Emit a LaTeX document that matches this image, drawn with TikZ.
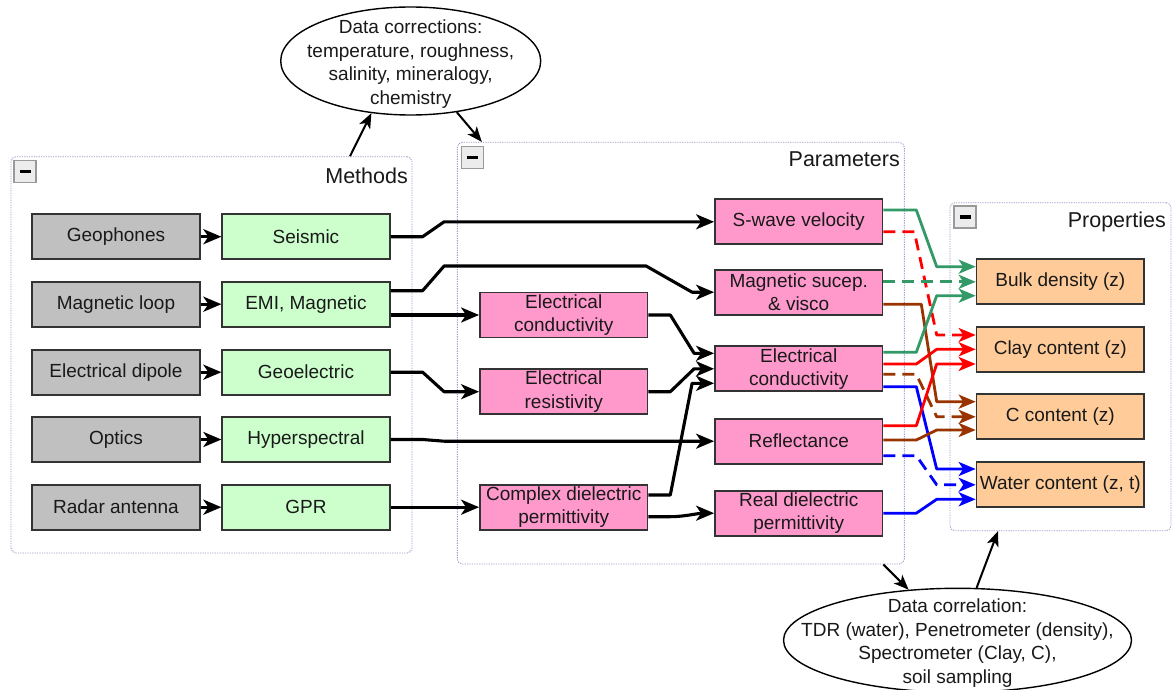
\documentclass[tikz,border=0pt]{standalone}
\usepackage{fontspec}
\setmainfont{Liberation Sans}
\usetikzlibrary{shapes.geometric,arrows.meta,calc}
\definecolor{edge}{HTML}{333333}
\definecolor{sfill}{HTML}{C0C0C0}
\definecolor{mfill}{HTML}{CCFFCC}
\definecolor{pfill}{HTML}{FF99CC}
\definecolor{ofill}{HTML}{FFCC99}
\definecolor{grpc}{HTML}{9A9AC8}
\definecolor{cgreen}{HTML}{339966}
\definecolor{cred}{HTML}{FF0000}
\definecolor{cbrown}{HTML}{993300}
\definecolor{cblue}{HTML}{0000FF}
\newcommand\plink[3][]{\draw[clr,#1] (#2) -- ++(33,0) -- ([xshift=-39pt]#3) -- (#3);}
\begin{document}
\begin{tikzpicture}[x=1pt,y=-1pt,
  box/.style={draw=edge, line width=1.7pt, minimum width=167.5pt, minimum height=45pt,
    inner xsep=0pt, inner ysep=1pt, align=center, font=\fontsize{19}{23.3}\selectfont, text=black!90},
  sensor/.style={box, fill=sfill},
  method/.style={box, fill=mfill},
  param/.style={box, fill=pfill},
  prop/.style={box, fill=ofill},
  grp/.style={draw=grpc, line width=0.9pt, dash pattern=on 1.2pt off 1.2pt, rounded corners=5pt},
  grplabel/.style={anchor=base east, inner sep=0pt, font=\fontsize{21.5}{24}\selectfont, text=black!90},
  btn/.style={draw=gray!80, fill=gray!15, line width=1.2pt, minimum size=22pt, inner sep=0pt,
    path picture={\draw[black, line width=3.2pt] ([xshift=-5.5pt]path picture bounding box.center) -- ([xshift=5.5pt]path picture bounding box.center);}},
  conn/.style={line width=3.1pt, line join=round, -{Stealth[length=18pt,width=15pt,inset=5pt]}},
  clr/.style={line width=2.8pt, line join=round, -{Stealth[length=17pt,width=14pt,inset=4.5pt]}},
  thin/.style={line width=2pt, -{Stealth[length=15pt,width=12pt,inset=4pt]}},
  dsh/.style={dash pattern=on 12pt off 7pt},
  oval/.style={ellipse, draw=black, line width=1.4pt, inner sep=0pt},
  ovaltext/.style={align=center, inner sep=0pt, font=\fontsize{19}{23.7}\selectfont, text=black!90}
]
\useasboundingbox (0,0) rectangle (1175,690);
\fill[white] (0,0) rectangle (1175,690);

% groups
\node[grp, minimum width=401pt, minimum height=396.3pt] (methods) at (211.5,354.85) {};
\node[grp, minimum width=447pt, minimum height=421.7pt] (params) at (680.8,353.15) {};
\node[grp, minimum width=221pt, minimum height=328pt] (props) at (1060.5,366.7) {};
\node[btn] (b1) at (25,171.7) {};
\node[btn] (b2) at (472.5,157.5) {};
\node[btn] (b3) at (965,217) {};
\node[grplabel] (lm) at (408,183.5) {Methods};
\node[grplabel] (lp) at (900,166.7) {Parameters};
\node[grplabel] (lq) at (1166,227.7) {Properties};

% ellipses
\node[oval, minimum width=260pt, minimum height=108pt] (corr) at (410.7,61) {};
\node[ovaltext] (corrt) at (410.7,64) {Data corrections:\\temperature, roughness,\\salinity, mineralogy,\\chemistry};
\node[oval, minimum width=348pt, minimum height=104pt] (corr2) at (957.5,640.3) {};
\node[ovaltext] (corr2t) at (957.5,643) {Data correlation:\\TDR (water), Penetrometer (density),\\Spectrometer (Clay, C),\\soil sampling};

% sensors
\node[sensor] (geo) at (116,236.7) {Geophones};
\node[sensor] (mloop) at (116,304.2) {Magnetic loop};
\node[sensor] (edip) at (116,372.2) {Electrical dipole};
\node[sensor] (opt) at (116,439.5) {Optics};
\node[sensor] (radar) at (116,507.2) {Radar antenna};
% methods
\node[method] (seis) at (306,236.7) {Seismic};
\node[method] (emi) at (306,304.2) {EMI, Magnetic};
\node[method] (gel) at (306,372.2) {Geoelectric};
\node[method] (hyp) at (306,439.5) {Hyperspectral};
\node[method] (gpr) at (306,507.2) {GPR};
% parameters
\node[param] (ec1) at (563.7,315) {Electrical\\conductivity};
\node[param] (res) at (563.7,391.7) {Electrical\\resistivity};
\node[param] (cdp) at (563.7,507.2) {Complex dielectric\\permittivity};
\node[param] (sw) at (798.7,221.8) {S-wave velocity};
\node[param] (mag) at (798.7,292.2) {Magnetic sucep.\\\& visco};
\node[param] (ec2) at (798.7,368.8) {Electrical\\conductivity};
\node[param] (refl) at (798.7,441.2) {Reflectance};
\node[param] (rdp) at (798.7,513.2) {Real dielectric\\permittivity};
% properties
\node[prop] (bulk) at (1060.3,281.8) {Bulk density (z)};
\node[prop] (clay) at (1060.3,349.3) {Clay content (z)};
\node[prop] (ccont) at (1060.3,416.8) {C content (z)};
\node[prop] (water) at (1060.3,484.8) {Water content (z, t)};

% sensor -> method
\draw[conn] (geo.east) -- (seis.west);
\draw[conn] (mloop.east) -- (emi.west);
\draw[conn] (edip.east) -- (gel.west);
\draw[conn] (opt.east) -- (hyp.west);
\draw[conn] (radar.east) -- (gpr.west);

% method -> parameters
\draw[conn] (seis.east) -- ++(32,0) -- ([xshift=-270pt]sw.west) -- (sw.west);
\draw[conn] ([yshift=13.5pt]emi.east) -- ++(32,0) -- ([xshift=-270pt,yshift=26.2pt]mag.west)
  -- ([xshift=-68pt,yshift=26.2pt]mag.west) -- ([xshift=-22pt]mag.west) -- (mag.west);
\draw[conn] (emi.east |- ec1.west) -- (ec1.west);
\draw[conn] (gel.east) -- ++(32,0) -- ([xshift=-35pt]res.west) -- (res.west);
\draw[conn] (hyp.east) -- ++(32,0) -- ([xshift=-270pt]refl.west) -- (refl.west);
\draw[conn] (gpr.east) -- (cdp.west);
\draw[conn] (ec1.east) -- ++(22,0) -- ([xshift=-20pt,yshift=15.5pt]ec2.west) -- ([yshift=15.5pt]ec2.west);
\draw[conn] (res.east) -- ++(22,0) -- ([xshift=-20pt]ec2.west) -- (ec2.west);
\draw[conn] ([yshift=12.2pt]cdp.east) -- ++(22,0) -- ([xshift=-22pt,yshift=-14.5pt]ec2.west) -- ([yshift=-14.5pt]ec2.west);
\draw[conn] ([yshift=-9.5pt]cdp.east) -- ++(22,0) .. controls +(14,0) and +(-16,0) .. (rdp.west);

% coloured endpoints
\coordinate (sw1) at ([yshift=11.8pt]sw.east);
\coordinate (sw2) at ([yshift=-9.9pt]sw.east);
\coordinate (mg1) at ([yshift=10.4pt]mag.east);
\coordinate (mg2) at ([yshift=-12.1pt]mag.east);
\coordinate (e1) at ([yshift=16.5pt]ec2.east);
\coordinate (e2) at ([yshift=4.8pt]ec2.east);
\coordinate (e3) at ([yshift=-5.5pt]ec2.east);
\coordinate (e4) at ([yshift=-17.9pt]ec2.east);
\coordinate (r1) at ([yshift=15.5pt]refl.east);
\coordinate (r2) at ([yshift=1.2pt]refl.east);
\coordinate (r3) at ([yshift=-14.5pt]refl.east);
\coordinate (d1) at (rdp.east);
\coordinate (tb1) at ([yshift=15.1pt]bulk.west);
\coordinate (tb2) at (bulk.west);
\coordinate (tb3) at ([yshift=-13.9pt]bulk.west);
\coordinate (tc1) at ([yshift=14.3pt]clay.west);
\coordinate (tc2) at (clay.west);
\coordinate (tc3) at ([yshift=-14.7pt]clay.west);
\coordinate (tk1) at ([yshift=15.1pt]ccont.west);
\coordinate (tk2) at (ccont.west);
\coordinate (tk3) at ([yshift=-13.2pt]ccont.west);
\coordinate (tw1) at ([yshift=15.8pt]water.west);
\coordinate (tw2) at (water.west);
\coordinate (tw3) at ([yshift=-14.5pt]water.west);

% parameters -> properties
\plink[cgreen]{sw1}{tb1}
\draw[clr,cred,dsh] (sw2) -- ++(31,0) -- ([xshift=-39pt]tc1) -- (tc1);
\draw[clr,cgreen,dsh] (mg1) -- (tb2);
\draw[clr,cbrown] (mg2) -- ++(38,0) -- ([xshift=-39pt]tk1) -- (tk1);
\plink[cgreen]{e1}{tb3}
\plink[cred]{e2}{tc2}
\plink[cbrown,dsh]{e3}{tk2}
\plink[cblue]{e4}{tw1}
\plink[cred]{r1}{tc3}
\plink[cbrown]{r2}{tk3}
\plink[cblue,dsh]{r3}{tw2}
\plink[cblue]{d1}{tw3}

% data corrections / correlation
\draw[thin] ([xshift=138.5pt]methods.north) -- (corr.233);
\draw[thin] (corr.312) -- ([xshift=-199pt]params.north);
\draw[thin] ([xshift=202.5pt]params.south) -- (corr2.134);
\draw[thin] (corr2.70) -- ([xshift=-62.5pt]props.south);
\end{tikzpicture}
\end{document}
